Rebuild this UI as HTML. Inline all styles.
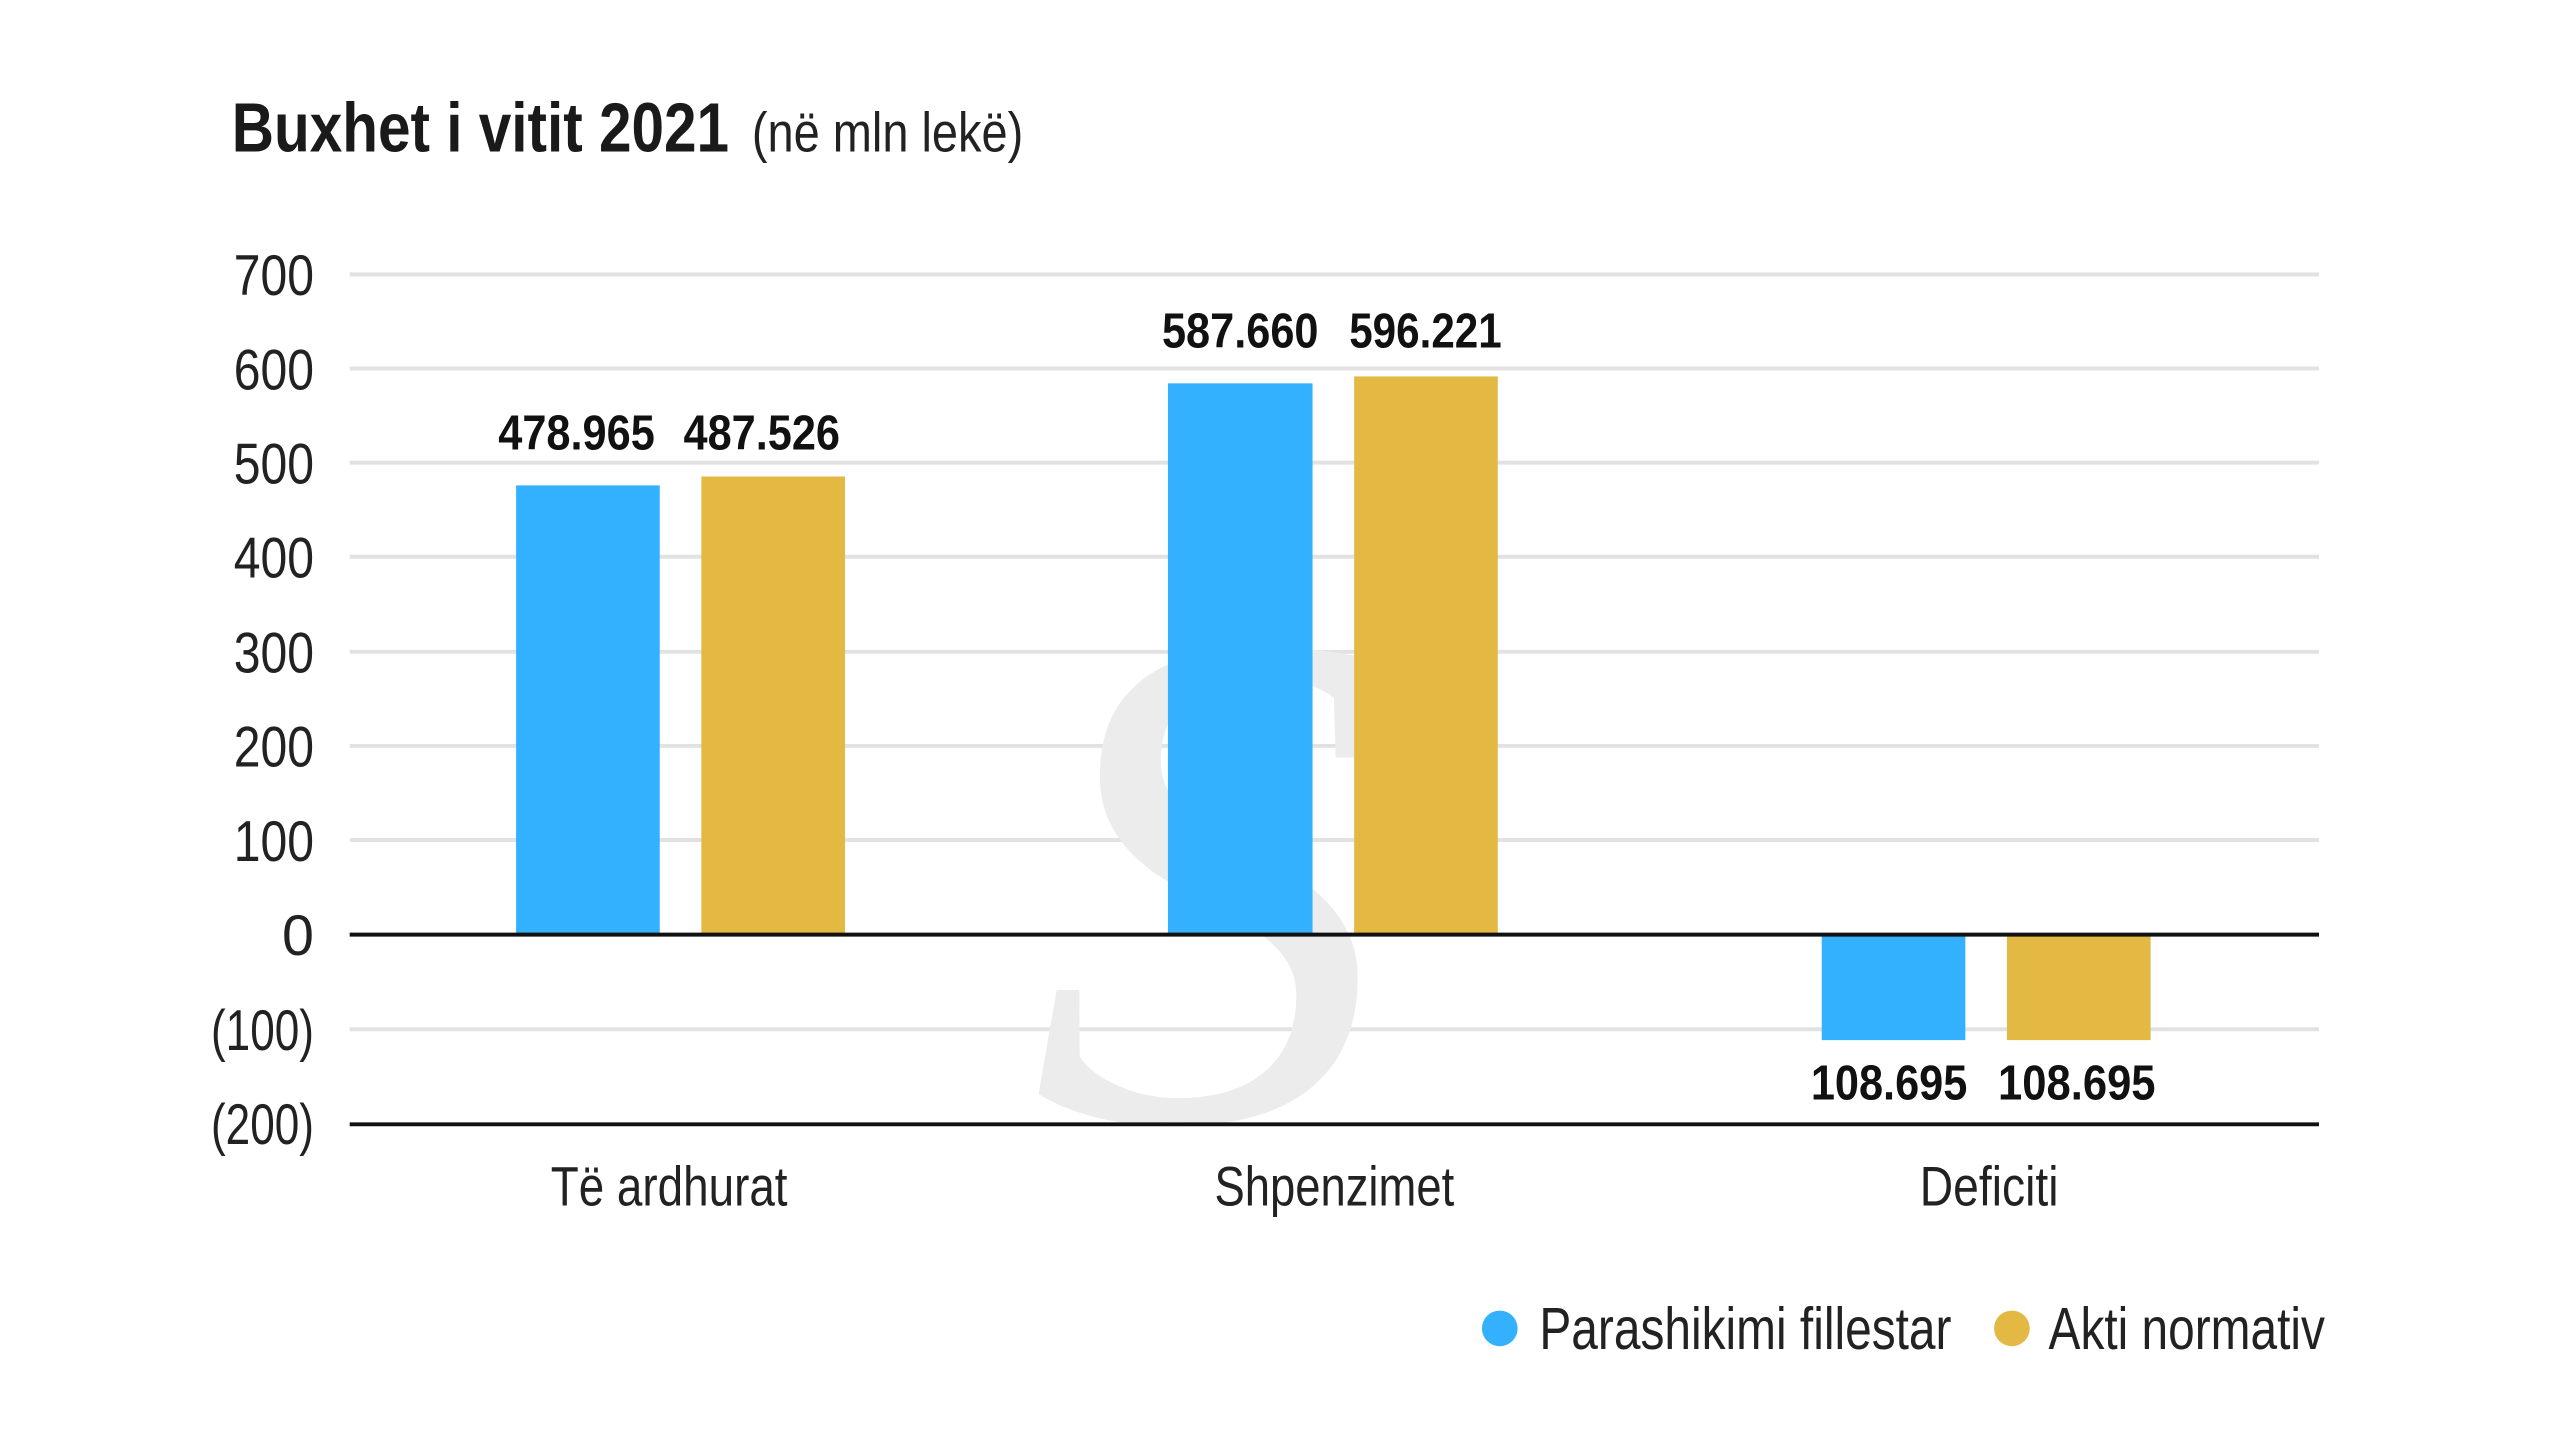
<!DOCTYPE html>
<html><head><meta charset="utf-8"><style>
html,body{margin:0;padding:0;background:#fff;}
svg{display:block;}
text{font-family:"Liberation Sans Narrow","Liberation Sans",sans-serif;}
</style></head><body>
<svg width="2560" height="1440" viewBox="0 0 2560 1440" xmlns="http://www.w3.org/2000/svg">
<rect width="2560" height="1440" fill="#fff"/>
<g transform="scale(0.9906)">
<text x="234" y="153" font-size="70" font-weight="bold" fill="#1a1a1a" textLength="502" lengthAdjust="spacingAndGlyphs">Buxhet i vitit 2021</text>
<text x="759" y="153" font-size="56" fill="#222" textLength="274" lengthAdjust="spacingAndGlyphs">(në mln lekë)</text>
<g stroke="#e2e2e2" stroke-width="4">
<line x1="353" y1="277" x2="2341" y2="277"/>
<line x1="353" y1="372" x2="2341" y2="372"/>
<line x1="353" y1="467" x2="2341" y2="467"/>
<line x1="353" y1="562" x2="2341" y2="562"/>
<line x1="353" y1="658" x2="2341" y2="658"/>
<line x1="353" y1="753" x2="2341" y2="753"/>
<line x1="353" y1="848" x2="2341" y2="848"/>
<line x1="353" y1="1039" x2="2341" y2="1039"/>
</g>
<text x="1040" y="1130" font-size="720" font-style="italic" fill="#ececec" style="font-family:'Liberation Serif',serif">S</text>
<g font-size="58" fill="#222" text-anchor="end">
<text x="317" y="298" textLength="81" lengthAdjust="spacingAndGlyphs">700</text>
<text x="317" y="393" textLength="81" lengthAdjust="spacingAndGlyphs">600</text>
<text x="317" y="488" textLength="81" lengthAdjust="spacingAndGlyphs">500</text>
<text x="317" y="583" textLength="81" lengthAdjust="spacingAndGlyphs">400</text>
<text x="317" y="679" textLength="81" lengthAdjust="spacingAndGlyphs">300</text>
<text x="317" y="774" textLength="81" lengthAdjust="spacingAndGlyphs">200</text>
<text x="317" y="869" textLength="81" lengthAdjust="spacingAndGlyphs">100</text>
<text x="317" y="964">0</text>
<text x="317" y="1060" textLength="104" lengthAdjust="spacingAndGlyphs">(100)</text>
<text x="317" y="1155" textLength="104" lengthAdjust="spacingAndGlyphs">(200)</text>
</g>
<g fill="#33b1ff">
<rect x="521" y="490" width="145" height="453"/>
<rect x="1179" y="387" width="146" height="556"/>
<rect x="1839" y="943" width="145" height="107"/>
</g>
<g fill="#e3b843">
<rect x="708" y="481" width="145" height="462"/>
<rect x="1367" y="380" width="145" height="563"/>
<rect x="2026" y="943" width="145" height="107"/>
</g>
<line x1="353" y1="943.5" x2="2341" y2="943.5" stroke="#111" stroke-width="4"/>
<line x1="353" y1="1135" x2="2341" y2="1135" stroke="#111" stroke-width="4"/>
<g font-size="50" font-weight="bold" fill="#111">
<text x="503" y="454" textLength="158" lengthAdjust="spacingAndGlyphs">478.965</text>
<text x="690" y="454" textLength="158" lengthAdjust="spacingAndGlyphs">487.526</text>
<text x="1173" y="351" textLength="158" lengthAdjust="spacingAndGlyphs">587.660</text>
<text x="1362" y="351" textLength="154" lengthAdjust="spacingAndGlyphs">596.221</text>
<text x="1828" y="1110" textLength="158" lengthAdjust="spacingAndGlyphs">108.695</text>
<text x="2017" y="1110" textLength="159" lengthAdjust="spacingAndGlyphs">108.695</text>
</g>
<g font-size="56" fill="#222">
<text x="556" y="1217" textLength="239" lengthAdjust="spacingAndGlyphs">Të ardhurat</text>
<text x="1226" y="1217" textLength="242" lengthAdjust="spacingAndGlyphs">Shpenzimet</text>
<text x="1938" y="1217" textLength="140" lengthAdjust="spacingAndGlyphs">Deficiti</text>
</g>
<circle cx="1514" cy="1341" r="18" fill="#33b1ff"/>
<circle cx="2031" cy="1341" r="18" fill="#e3b843"/>
<g font-size="60" fill="#222">
<text x="1554" y="1362" textLength="416" lengthAdjust="spacingAndGlyphs">Parashikimi fillestar</text>
<text x="2068" y="1362" textLength="279" lengthAdjust="spacingAndGlyphs">Akti normativ</text>
</g>
</g>
</svg>
</body></html>
